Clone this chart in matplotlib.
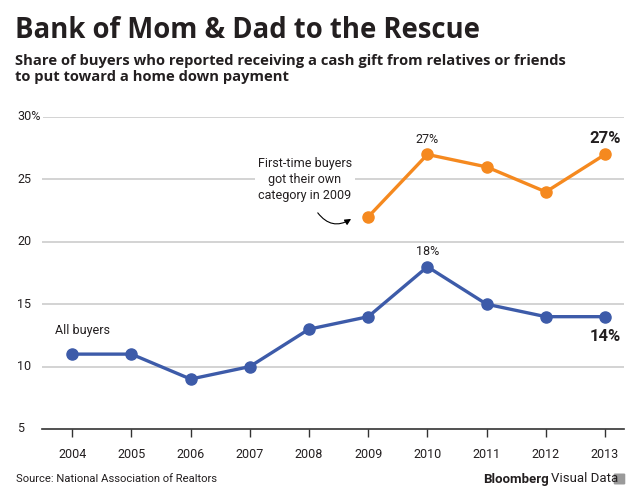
import matplotlib
matplotlib.use("Agg")
import matplotlib.pyplot as plt
import matplotlib.transforms as mtransforms
from matplotlib.patches import FancyBboxPatch

# ------------------------------------------------------------------
# Data
# ------------------------------------------------------------------
years = [2004, 2005, 2006, 2007, 2008, 2009, 2010, 2011, 2012, 2013]
all_buyers = [11, 11, 9, 10, 13, 14, 18, 15, 14, 14]
first_years = [2009, 2010, 2011, 2012, 2013]
first_time = [22, 27, 26, 24, 27]
y_ticks = [5, 10, 15, 20, 25, 30]
y_labels = ["5", "10", "15", "20", "25", "30%"]

BLUE = "#3d5ba9"
ORANGE = "#f5891f"
TXT = "#231f20"

plt.rcParams["font.family"] = ["Roboto", "DejaVu Sans"]

# ------------------------------------------------------------------
# Figure
# ------------------------------------------------------------------
fig = plt.figure(figsize=(6.4, 4.95), dpi=100)
ax = fig.add_axes([42 / 640, 1 - 429 / 495, (624 - 42) / 640, (429 - 117) / 495])

ax.set_xlim(2003.49, 2013.32)
ax.set_ylim(5, 30)

for v in y_ticks[1:]:
    ax.axhline(v, color="#cccccc", lw=1.2, zorder=0)

ax.plot(years, all_buyers, color=BLUE, lw=2.4, marker="o", ms=8, clip_on=False, zorder=3)
ax.plot(first_years, first_time, color=ORANGE, lw=2.4, marker="o", ms=8, clip_on=False, zorder=3)

for s in ["top", "right", "left"]:
    ax.spines[s].set_visible(False)
ax.spines["bottom"].set_color("#333333")
ax.spines["bottom"].set_linewidth(1.2)

ax.set_xticks(years)
ax.set_xticklabels([str(y) for y in years], fontsize=9, color=TXT)
ax.tick_params(axis="x", length=6, width=1, color="#333333", pad=8)
ax.set_yticks([])

# y labels sit left of the gridlines
ylab_tr = mtransforms.blended_transform_factory(fig.transFigure, ax.transData)
for v, lab in zip(y_ticks, y_labels):
    ax.text(17 / 640, v, lab, transform=ylab_tr, fontsize=9, color=TXT, va="center", ha="left",
            bbox=dict(facecolor="white", edgecolor="none", pad=1.5), zorder=1)

# annotations
ax.text(first_years[1], first_time[1] + 1.2, "27%", ha="center", va="center", fontsize=9, color=TXT)
ax.text(years[6], all_buyers[6] + 1.2, "18%", ha="center", va="center", fontsize=9, color=TXT)
ax.text(first_years[-1], first_time[-1] + 1.3, "27%", ha="center", va="center", fontsize=12,
        fontweight="bold", color=TXT)
ax.text(years[-1], all_buyers[-1] - 1.6, "14%", ha="center", va="center", fontsize=12,
        fontweight="bold", color=TXT)
ax.text(2004.17, 12.9, "All buyers", ha="center", va="center", fontsize=9, color=TXT)

ax.text(2007.93, 25, "First-time buyers\ngot their own\ncategory in 2009", ha="center", va="center",
        fontsize=9, color=TXT, linespacing=1.3,
        bbox=dict(facecolor="white", edgecolor="none", pad=2), zorder=2)
ax.annotate("", xy=(2008.75, 21.95), xytext=(2008.12, 22.5),
            arrowprops=dict(arrowstyle="-|>", color="black", lw=0.8,
                            connectionstyle="arc3,rad=0.5", mutation_scale=9))

# ------------------------------------------------------------------
# Titles / footer
# ------------------------------------------------------------------
fig.text(15 / 640, 1 - 30 / 495, "Bank of Mom & Dad to the Rescue", fontsize=19.8,
         fontweight="bold", color=TXT, va="center", family=["Open Sans", "DejaVu Sans"])
fig.text(15 / 640, 1 - 69 / 495,
         "Share of buyers who reported receiving a cash gift from relatives or friends\n"
         "to put toward a home down payment",
         fontsize=10.6, fontweight="bold", color=TXT, va="center", linespacing=1.18,
         family=["Open Sans", "DejaVu Sans"])
fig.text(16 / 640, 1 - 479 / 495, "Source: National Association of Realtors", fontsize=8.1,
         color=TXT, va="center")
fig.text(549 / 640, 1 - 479 / 495, "Bloomberg", fontsize=9.5, fontweight="bold", color=TXT,
         va="center", ha="right")
fig.text(551 / 640, 1 - 479 / 495, "Visual Data", fontsize=9.5, color=TXT, va="center", ha="left")
fig.patches.append(FancyBboxPatch((615 / 640, 1 - 483.5 / 495), 9 / 640, 9 / 495,
                                  boxstyle="round,pad=0.002", transform=fig.transFigure,
                                  facecolor="#9a9a9a", edgecolor="none"))

fig.savefig("out.png", dpi=100)
